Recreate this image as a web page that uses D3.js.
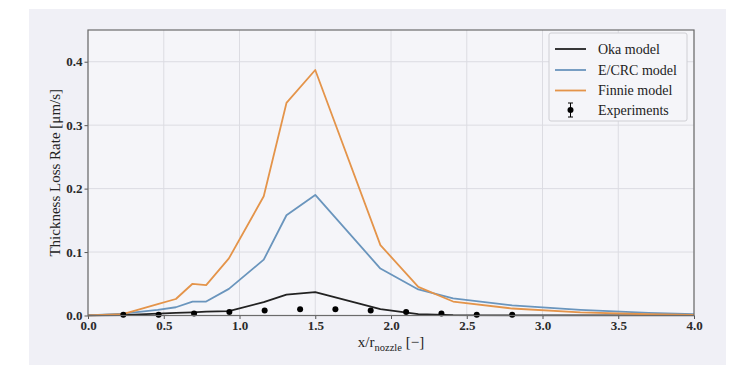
<!DOCTYPE html>
<html>
<head>
<meta charset="utf-8">
<script src="https://cdn.jsdelivr.net/npm/d3@7"></script>
<style>
  html, body { margin: 0; padding: 0; background: #ffffff; }
  svg { display: block; }
  text { font-family: "Liberation Serif", "DejaVu Serif", serif; }
</style>
</head>
<body>
<svg id="chart" width="730" height="365"></svg>
<script>
// ---- data ----
const modelX   = [0, 0.23, 0.46, 0.58, 0.69, 0.78, 0.93, 1.16, 1.31, 1.5, 1.93, 2.18, 2.41, 2.8, 3.25, 3.7, 4.0];
const okaY     = [0, 0.0005, 0.003, 0.004, 0.005, 0.006, 0.007, 0.021, 0.033, 0.037, 0.010, 0.002, 0.0005, 0.0003, 0.0002, 0.0001, 0.0001];
const ecrcY    = [0, 0.003, 0.009, 0.013, 0.022, 0.022, 0.042, 0.088, 0.158, 0.190, 0.074, 0.041, 0.027, 0.016, 0.009, 0.004, 0.002];
const finnieY  = [0, 0.002, 0.018, 0.026, 0.050, 0.048, 0.090, 0.188, 0.335, 0.387, 0.111, 0.045, 0.022, 0.011, 0.005, 0.002, 0.001];
const expX     = [0.233, 0.466, 0.7, 0.933, 1.166, 1.4, 1.633, 1.866, 2.1, 2.333, 2.566, 2.8];
const expY     = [0.001, 0.001, 0.003, 0.0055, 0.008, 0.0098, 0.0098, 0.008, 0.0055, 0.003, 0.0012, 0.0012];
const expErr   = [0.0005, 0.0005, 0.0008, 0.001, 0.001, 0.001, 0.001, 0.001, 0.001, 0.0008, 0.0005, 0.0005];
const xTicks   = [0, 0.5, 1.0, 1.5, 2.0, 2.5, 3.0, 3.5, 4.0];
const yTicks   = [0, 0.1, 0.2, 0.3, 0.4];
const seriesNames = ["Oka model", "E/CRC model", "Finnie model", "Experiments"];
const seriesColors = ["#222222", "#6a95bd", "#e4944a"];

// ---- layout ----
const svg = d3.select("#chart");
const L = 88, R = 694, T = 30, B = 315.5;
const x = d3.scaleLinear().domain([0, 4]).range([L, R]);
const y = d3.scaleLinear().domain([0, 0.45]).range([B, T]);

// panel background
svg.append("rect").attr("x", 29).attr("y", 9).attr("width", 697).attr("height", 356)
  .attr("fill", "#f0f0f6");
svg.append("rect").attr("x", L).attr("y", T).attr("width", R - L).attr("height", B - T)
  .attr("fill", "#f5f5f9");

// grid
const grid = svg.append("g");
grid.selectAll(".gx").data(xTicks).join("line")
  .attr("x1", d => x(d)).attr("x2", d => x(d)).attr("y1", T).attr("y2", B)
  .attr("stroke", "#dcdce2").attr("stroke-width", 1);
grid.selectAll(".gy").data(yTicks).join("line")
  .attr("x1", L).attr("x2", R).attr("y1", d => y(d)).attr("y2", d => y(d))
  .attr("stroke", "#dcdce2").attr("stroke-width", 1);

// axes
const fmt = d3.format(".1f");
const xAxis = svg.append("g").attr("transform", `translate(0,${B})`)
  .call(d3.axisBottom(x).tickValues(xTicks).tickFormat(fmt).tickSize(3.5).tickPadding(2));
const yAxis = svg.append("g").attr("transform", `translate(${L},0)`)
  .call(d3.axisLeft(y).tickValues(yTicks).tickFormat(fmt).tickSize(3.5).tickPadding(2));
[xAxis, yAxis].forEach(g => {
  g.attr("font-family", null);
  g.select(".domain").remove();
  g.selectAll(".tick line").attr("stroke", "#555");
  g.selectAll(".tick text").attr("fill", "#2a2a2a").style("font-size", "13px")
    .style("font-family", "'Liberation Serif', serif").style("font-weight", "bold");
});

// lines
svg.append("clipPath").attr("id", "clip").append("rect")
  .attr("x", L).attr("y", T).attr("width", R - L).attr("height", B - T + 1);
const lineGen = d3.line().x(d => x(d[0])).y(d => y(d[1]));
const plot = svg.append("g").attr("clip-path", "url(#clip)");
[okaY, ecrcY, finnieY].forEach((ys, i) => {
  plot.append("path").datum(modelX.map((v, j) => [v, ys[j]]))
    .attr("d", lineGen).attr("fill", "none")
    .attr("stroke", seriesColors[i]).attr("stroke-width", 1.8)
    .attr("stroke-linejoin", "round");
});

// experiments
const exp = svg.append("g");
expX.forEach((v, i) => {
  exp.append("line").attr("x1", x(v)).attr("x2", x(v))
    .attr("y1", y(expY[i] - expErr[i])).attr("y2", y(expY[i] + expErr[i]))
    .attr("stroke", "#000").attr("stroke-width", 1);
});
exp.selectAll("circle").data(expX).join("circle")
  .attr("cx", d => x(d)).attr("cy", (d, i) => y(expY[i])).attr("r", 3).attr("fill", "#000");

// spines
svg.append("rect").attr("x", L).attr("y", T).attr("width", R - L).attr("height", B - T)
  .attr("fill", "none").attr("stroke", "#6b6b6b").attr("stroke-width", 1.2);

// axis labels
svg.append("text").attr("transform", `translate(57,${(T + B) / 2}) rotate(-90)`)
  .attr("text-anchor", "middle").attr("dominant-baseline", "middle")
  .attr("fill", "#222").style("font-size", "15px").text("Thickness Loss Rate [μm/s]");
const xl = svg.append("text").attr("x", (L + R) / 2).attr("y", 347)
  .attr("text-anchor", "middle").attr("fill", "#222").style("font-size", "15px");
xl.append("tspan").text("x/r");
xl.append("tspan").attr("dy", 3.5).style("font-size", "10.5px").text("nozzle");
xl.append("tspan").attr("dy", -3.5).text(" [−]");

// legend
const lg = svg.append("g");
lg.append("rect").attr("x", 549).attr("y", 33).attr("width", 138).attr("height", 88)
  .attr("rx", 2).attr("fill", "#f5f5f9").attr("stroke", "#cfcfd4").attr("stroke-width", 1);
const ly = [49, 70, 90.5, 110];
seriesNames.forEach((n, i) => {
  if (i < 3) {
    lg.append("line").attr("x1", 555).attr("x2", 586).attr("y1", ly[i]).attr("y2", ly[i])
      .attr("stroke", seriesColors[i]).attr("stroke-width", 1.8);
  } else {
    lg.append("line").attr("x1", 570.5).attr("x2", 570.5).attr("y1", ly[i] - 7).attr("y2", ly[i] + 7)
      .attr("stroke", "#000").attr("stroke-width", 1);
    lg.append("line").attr("x1", 568).attr("x2", 573).attr("y1", ly[i] - 7).attr("y2", ly[i] - 7)
      .attr("stroke", "#000").attr("stroke-width", 1);
    lg.append("line").attr("x1", 568).attr("x2", 573).attr("y1", ly[i] + 7).attr("y2", ly[i] + 7)
      .attr("stroke", "#000").attr("stroke-width", 1);
    lg.append("circle").attr("cx", 570.5).attr("cy", ly[i]).attr("r", 3).attr("fill", "#000");
  }
  lg.append("text").attr("x", 598).attr("y", ly[i]).attr("dominant-baseline", "central")
    .attr("fill", "#222").style("font-size", "14px").text(n);
});
</script>
</body>
</html>
